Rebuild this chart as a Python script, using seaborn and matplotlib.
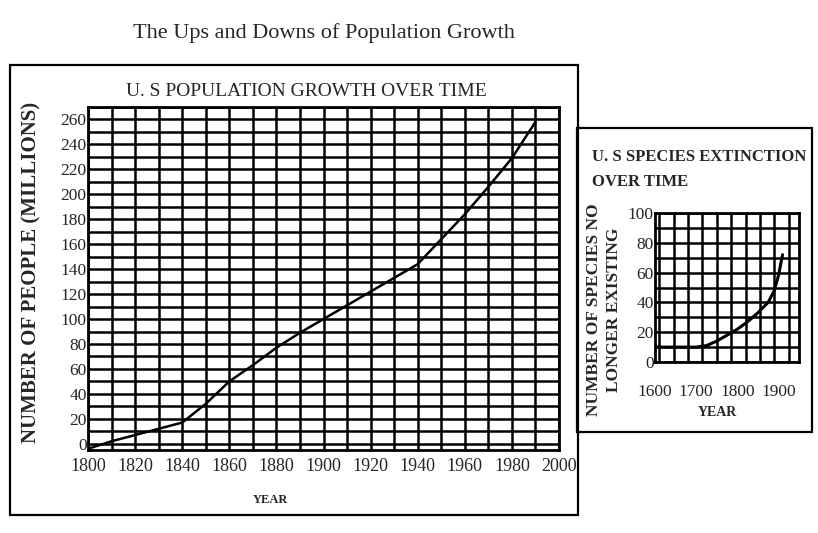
import matplotlib
matplotlib.use("Agg")
import matplotlib.pyplot as plt
from matplotlib.patches import Rectangle
from matplotlib.ticker import MultipleLocator
import seaborn as sns
import pandas as pd

# US population (millions)
pop_years = [1800, 1810, 1820, 1830, 1840, 1850, 1860, 1870, 1880, 1890,
             1900, 1910, 1920, 1930, 1940, 1950, 1960, 1970, 1980, 1990]
pop_values = [-4, 2, 7, 12, 17, 32, 50, 63, 77, 89,
              100, 111, 122, 133, 144, 164, 184, 206, 229, 258]
pop_xticks = [1800, 1820, 1840, 1860, 1880, 1900, 1920, 1940, 1960, 1980, 2000]
pop_yticks = [0, 20, 40, 60, 80, 100, 120, 140, 160, 180, 200, 220, 240, 260]

# species no longer existing
ext_years = [1600, 1650, 1700, 1725, 1750, 1775, 1800, 1825, 1850, 1875, 1890, 1900, 1910]
ext_values = [10, 10, 10, 11, 14, 18, 22, 27, 33, 40, 48, 58, 72]
ext_xticks = [1600, 1700, 1800, 1900]
ext_yticks = [0, 20, 40, 60, 80, 100]

sns.set_style("white")
plt.rcParams['font.family'] = ['Liberation Serif', 'DejaVu Serif']

W, H = 818, 533
fig = plt.figure(figsize=(W / 100, H / 100), dpi=100)

def box(x0, y0, x1, y1):
    # pixel coords (top-left origin) -> figure fraction
    return [x0 / W, 1 - y1 / H, (x1 - x0) / W, (y1 - y0) / H]

def ftext(x, y, s, **kw):
    fig.text(x / W, 1 - y / H, s, **kw)

# outer frames
for (x0, y0, x1, y1) in [(10, 65, 578, 515), (577, 128, 812, 432)]:
    b = box(x0, y0, x1, y1)
    fig.patches.append(Rectangle((b[0], b[1]), b[2], b[3], transform=fig.transFigure,
                                 fill=False, edgecolor='black', linewidth=1.6))

ftext(324, 33, "The Ups and Downs of Population Growth", ha='center', va='center', fontsize=16)

def style_grid(ax):
    ax.grid(True, which='both', color='black', linewidth=1.8)
    ax.set_axisbelow(False)
    for s in ax.spines.values():
        s.set_color('black')
        s.set_linewidth(2)
    ax.tick_params(which='both', length=0, pad=1, labelsize=12.5)

# main chart
ax1 = fig.add_axes(box(88, 107, 559, 450))
df_pop = pd.DataFrame({'year': pop_years, 'pop': pop_values})
sns.lineplot(data=df_pop, x='year', y='pop', ax=ax1, color='black', linewidth=1.8)
ax1.set_xlim(1800, 2000)
ax1.set_ylim(-5, 270)
ax1.set_xticks(pop_xticks)
ax1.set_yticks(pop_yticks)
ax1.xaxis.set_minor_locator(MultipleLocator(10))
ax1.yaxis.set_minor_locator(MultipleLocator(10))
style_grid(ax1)
ax1.tick_params(axis='x', labelsize=13, pad=6)
ax1.set_xlabel("")
ax1.set_ylabel("")
ftext(270, 500, "YEAR", ha='center', va='center', fontsize=9, fontweight='bold')
ftext(31, 272, "NUMBER OF PEOPLE (MILLIONS)", ha='center', va='center', rotation=90,
      fontsize=15, fontweight='bold')
ftext(306, 91, "U. S POPULATION GROWTH OVER TIME", ha='center', va='center', fontsize=14)

# species chart
ax2 = fig.add_axes(box(655, 213, 799, 362))
df_ext = pd.DataFrame({'year': ext_years, 'lost': ext_values})
sns.lineplot(data=df_ext, x='year', y='lost', ax=ax2, color='black', linewidth=2.2)
ax2.set_xlim(1600, 1950)
ax2.set_ylim(0, 100)
ax2.set_xticks(ext_xticks)
ax2.set_yticks(ext_yticks)
ax2.xaxis.set_minor_locator(MultipleLocator(35))
ax2.yaxis.set_minor_locator(MultipleLocator(10))
style_grid(ax2)
ax2.grid(False, which='major', axis='x')
ax2.tick_params(axis='x', pad=16)
ax2.set_xlabel("")
ax2.set_ylabel("")
ftext(717, 413, "YEAR", ha='center', va='center', fontsize=10, fontweight='bold')
ftext(604, 310, "NUMBER OF SPECIES NO\nLONGER EXISTING", ha='center', va='center',
      rotation=90, fontsize=12.5, fontweight='bold', linespacing=1.25)
ftext(592, 169, "U. S SPECIES EXTINCTION\nOVER TIME", ha='left', va='center',
      fontsize=12, fontweight='bold', linespacing=1.75)

fig.savefig("out.png", dpi=100)
